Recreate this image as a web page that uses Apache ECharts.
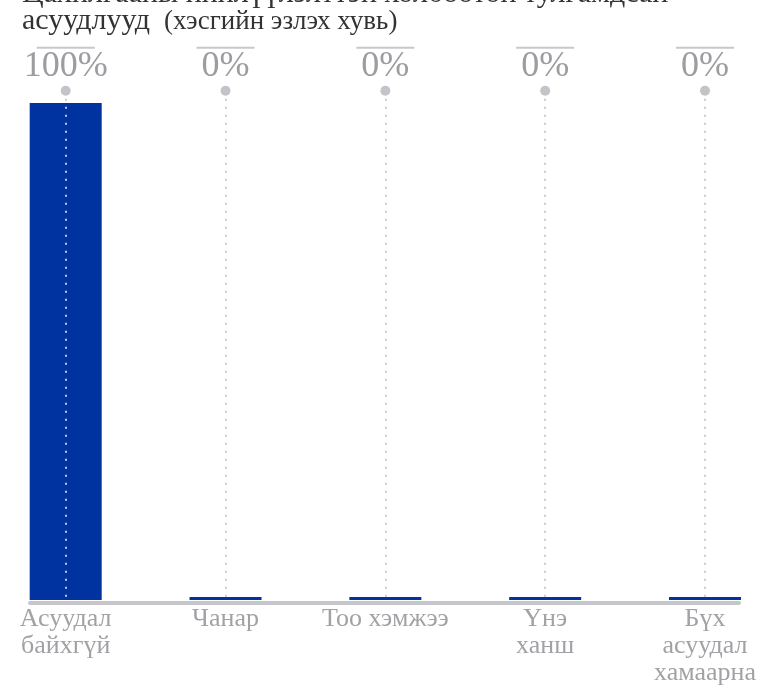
<!DOCTYPE html>
<html>
<head>
<meta charset="utf-8">
<script src="https://cdn.jsdelivr.net/npm/echarts@6/dist/echarts.min.js"></script>
<style>
  html, body { margin: 0; padding: 0; background: #ffffff; }
  #chart { width: 759px; height: 687px; }
</style>
</head>
<body>
<div id="chart"></div>
<script>
// ---- data ----
var titleLine1 = 'Цахилгааны нийлүүлэлттэй холбоотой тулгамдсан';
var titleMain = 'асуудлууд';
var titleSub = '(хэсгийн эзлэх хувь)';
var categories = ['Асуудал\nбайхгүй', 'Чанар', 'Тоо хэмжээ', 'Үнэ\nханш', 'Бүх\nасуудал\nхамаарна'];
var values = [100, 0, 0, 0, 0];
var valueSuffix = '%';

// ---- layout / style ----
var SERIF = '"Liberation Serif", "DejaVu Serif", serif';
var yMax = 102.5;
var markerRow = categories.map(function () { return yMax; });

var chart = echarts.init(document.getElementById('chart'), null, { renderer: 'canvas' });
chart.setOption({
  animation: false,
  backgroundColor: '#ffffff',
  title: {
    text: '{b|' + titleLine1 + '}\n{b|' + titleMain + '}{s|' + titleSub + '}',
    left: 22,
    top: -19,
    padding: 0,
    textStyle: {
      fontFamily: SERIF,
      fontWeight: 'normal',
      fontSize: 30,
      lineHeight: 27,
      color: '#333333',
      rich: {
        b: { fontFamily: SERIF, fontSize: 30, lineHeight: 27, color: '#333333' },
        s: { fontFamily: SERIF, fontSize: 27, lineHeight: 27, color: '#333333', padding: [0, 0, 0, 14] }
      }
    }
  },
  grid: [
    { left: 65.7, right: 51.7, top: 90.7, bottom: 86 },
    { left: 30, right: 20, top: 90.7, bottom: 84 }
  ],
  xAxis: [
    {
      type: 'category',
      gridIndex: 0,
      data: categories,
      boundaryGap: false,
      axisLine: { show: false },
      axisTick: { show: false },
      splitLine: { show: false },
      axisLabel: {
        interval: 0,
        margin: 6,
        fontFamily: SERIF,
        fontSize: 26,
        lineHeight: 27,
        color: '#a2a2a6',
        align: 'center'
      }
    },
    {
      type: 'value',
      gridIndex: 1,
      min: 0,
      max: 1,
      axisLine: { show: true, lineStyle: { color: '#c6c6ca', width: 4 } },
      axisTick: { show: false },
      axisLabel: { show: false },
      splitLine: { show: false }
    }
  ],
  yAxis: [
    { type: 'value', gridIndex: 0, min: 0, max: yMax, show: false },
    { type: 'value', gridIndex: 1, min: 0, max: 1, show: false }
  ],
  series: [
    {
      type: 'bar',
      xAxisIndex: 0,
      yAxisIndex: 0,
      data: values,
      barWidth: 72,
      barMinHeight: 3,
      clip: false,
      z: 2,
      itemStyle: { color: '#0033a0' }
    },
    {
      type: 'scatter',
      xAxisIndex: 0,
      yAxisIndex: 0,
      data: markerRow,
      symbol: 'circle',
      symbolSize: 10,
      clip: false,
      z: 6,
      itemStyle: { color: '#c4c4c8', opacity: 1 },
      label: {
        show: true,
        position: 'top',
        distance: 1,
        formatter: function (p) {
          return '{ln|}\n{v|' + values[p.dataIndex] + valueSuffix + '}';
        },
        rich: {
          ln: { width: 58, height: 2, lineHeight: 2, backgroundColor: '#c8c8cc', align: 'center' },
          v: { fontFamily: SERIF, fontSize: 36, lineHeight: 36, color: '#9c9ca1', align: 'center' }
        }
      },
      markLine: {
        silent: true,
        symbol: ['none', 'none'],
        label: { show: false },
        z: 5,
        lineStyle: { type: [2, 6], width: 2, color: '#c8c8d0', opacity: 1 },
        emphasis: { disabled: true },
        data: categories.map(function (c) {
          return [{ coord: [c, yMax] }, { coord: [c, 0] }];
        })
      }
    }
  ]
});
</script>
</body>
</html>
